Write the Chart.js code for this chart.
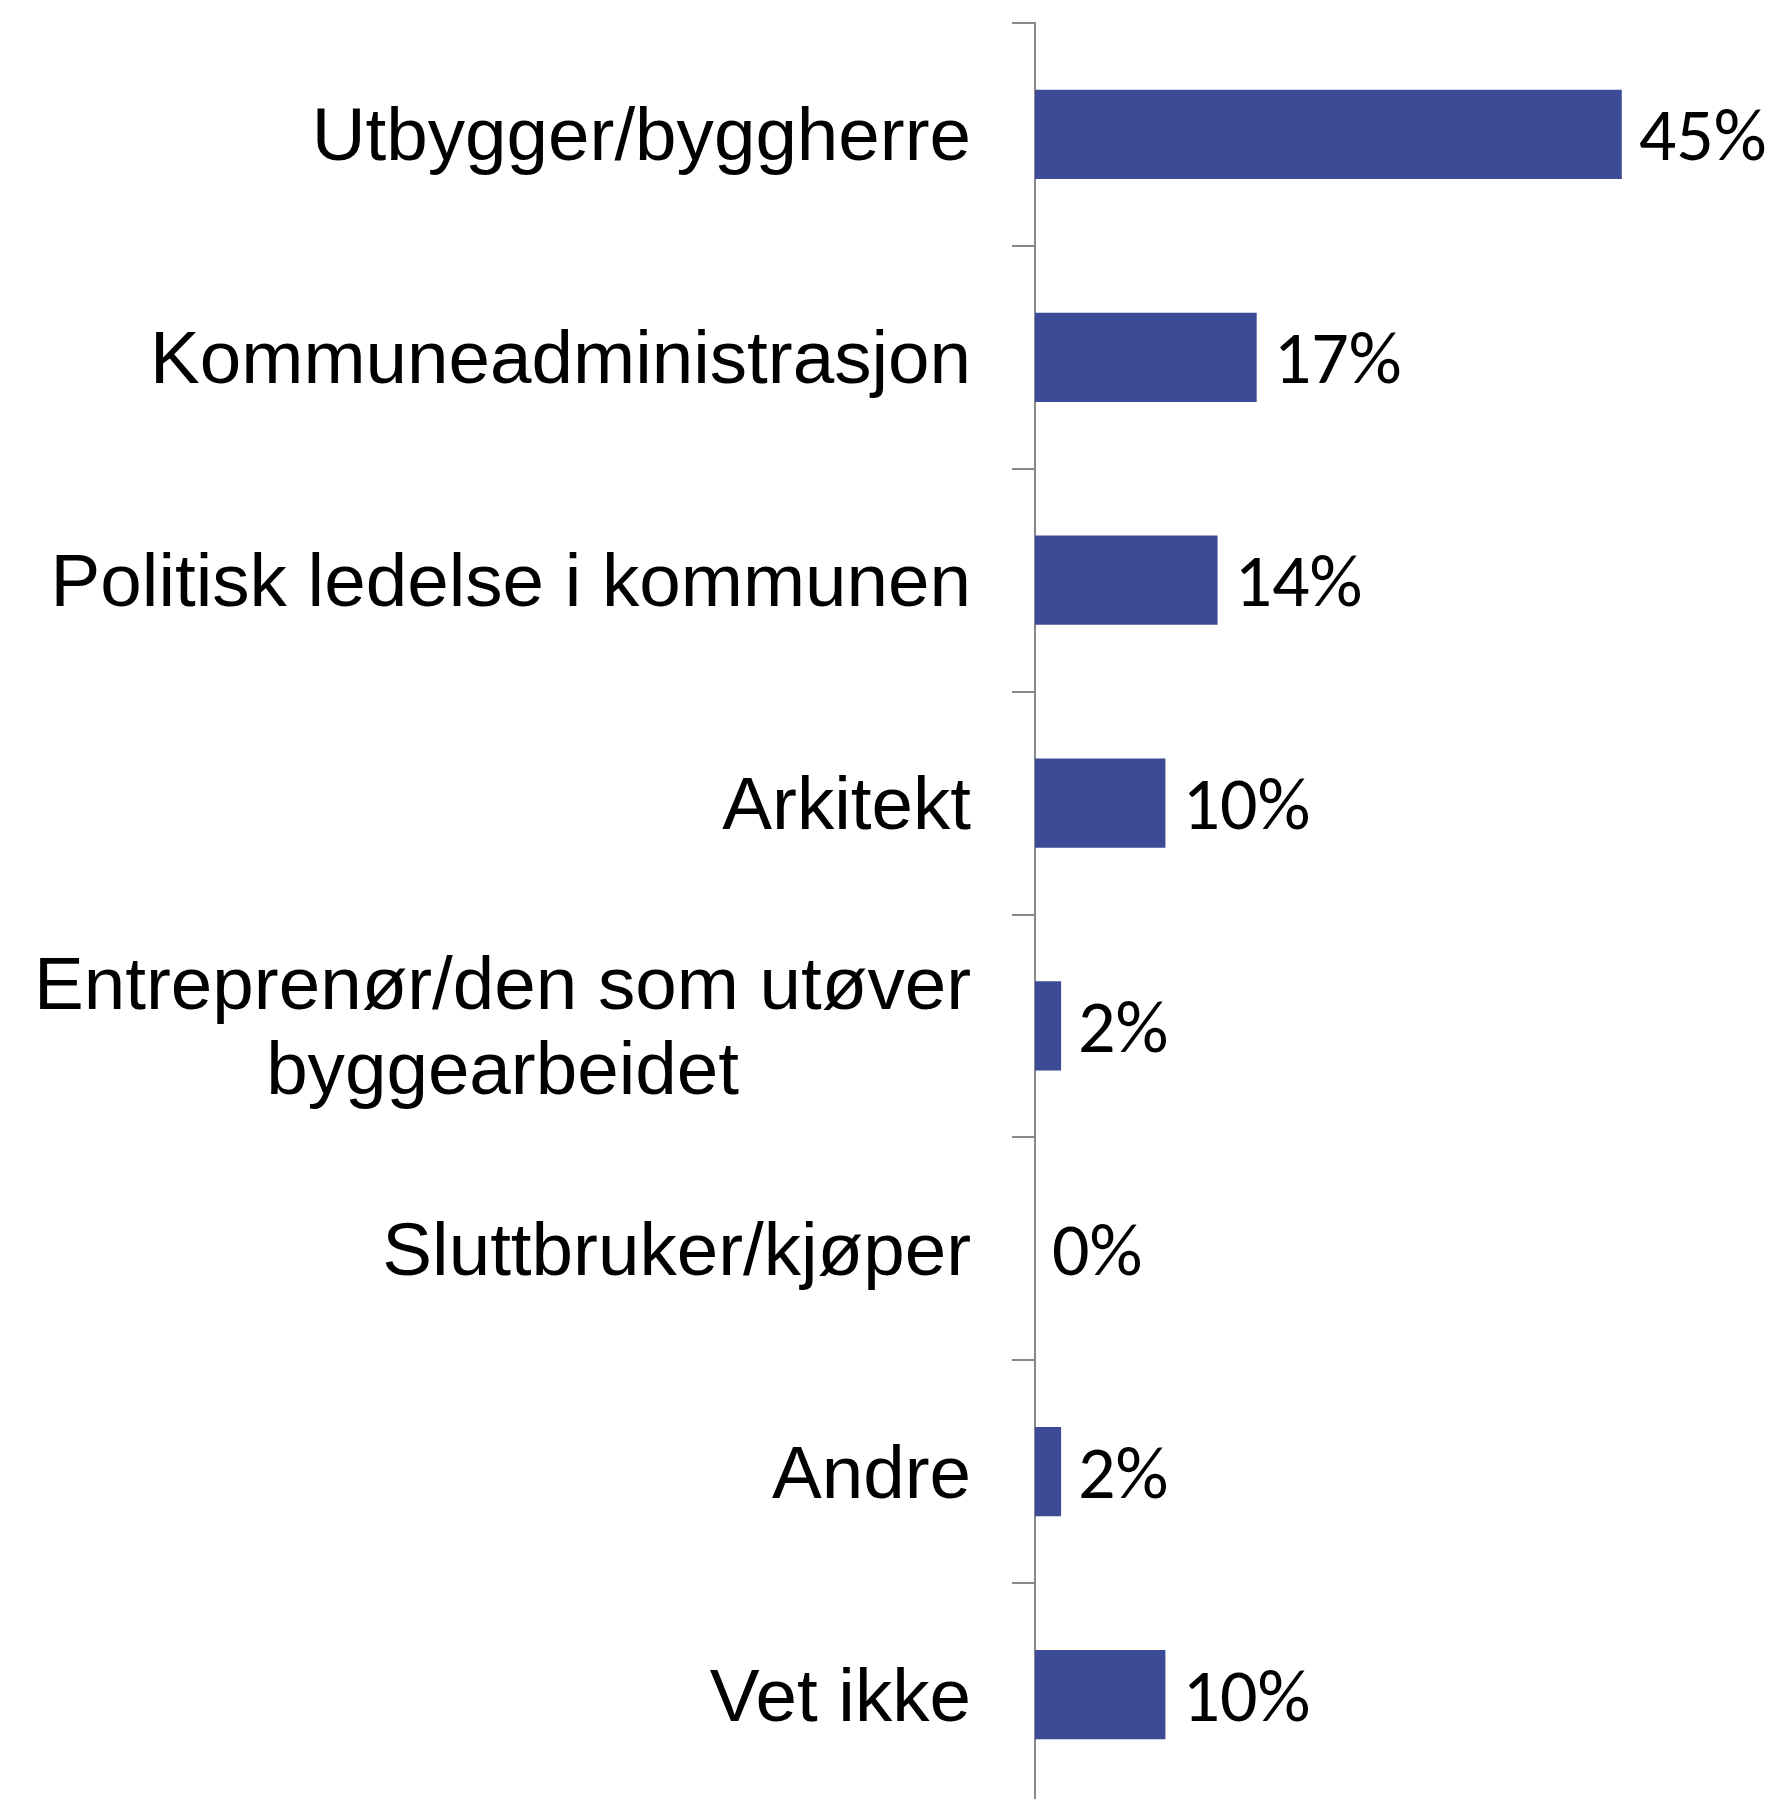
<!DOCTYPE html>
<html>
<head>
<meta charset="utf-8">
<script src="https://cdn.jsdelivr.net/npm/chart.js@4.4.0/dist/chart.umd.min.js"></script>
<style>
  html, body { margin: 0; padding: 0; background: #fff; overflow: hidden; }
  canvas { display: block; }
</style>
</head>
<body>
<canvas id="chart" width="1779" height="1807"></canvas>
<script>
// kategorier (andel svar i prosent)
const categories = [
    'Utbygger/byggherre',
    'Kommuneadministrasjon',
    'Politisk ledelse i kommunen',
    'Arkitekt',
    ['Entreprenør/den som utøver', 'byggearbeidet'],
    'Sluttbruker/kjøper',
    'Andre',
    'Vet ikke'
];
const values = [45, 17, 14, 10, 2, 0, 2, 10];
const valueLabels = ['45%', '17%', '14%', '10%', '2%', '0%', '2%', '10%'];

const barColor = '#3d4b97';
const axisColor = '#888888';

// tegner kategorinavn til venstre (flere linjer sentreres mot hverandre)
const categoryLabels = {
    id: 'categoryLabels',
    afterDraw(chart) {
        const ctx = chart.ctx;
        const yScale = chart.scales.y;
        const right = chart.chartArea.left - 64;
        const lineHeight = 85;
        ctx.save();
        ctx.fillStyle = '#000';
        ctx.font = '74.6px "Liberation Sans", Arial, sans-serif';
        ctx.textBaseline = 'alphabetic';
        ctx.textAlign = 'center';
        categories.forEach((lab, i) => {
            const lines = Array.isArray(lab) ? lab : [lab];
            const yc = yScale.getPixelForTick(i);
            const w = Math.max(...lines.map(l => ctx.measureText(l).width));
            const cx = right - w / 2;
            lines.forEach((line, j) => {
                const y = yc + (j - (lines.length - 1) / 2) * lineHeight + 26;
                ctx.fillText(line, cx, y);
            });
        });
        ctx.restore();
    }
};

// verdietiketter etter hver søyle
const valueLabelPlugin = {
    id: 'valueLabels',
    afterDatasetsDraw(chart) {
        const ctx = chart.ctx;
        const meta = chart.getDatasetMeta(0);
        ctx.save();
        ctx.fillStyle = '#000';
        ctx.font = '74px Carlito, Lato, "Open Sans", sans-serif';
        ctx.textAlign = 'left';
        ctx.textBaseline = 'alphabetic';
        meta.data.forEach((bar, i) => {
            ctx.fillText(valueLabels[i], bar.x + 17, bar.y + 26);
        });
        ctx.restore();
    }
};

new Chart(document.getElementById('chart').getContext('2d'), {
    type: 'bar',
    data: {
        labels: categories,
        datasets: [{
            data: values,
            backgroundColor: barColor,
            borderWidth: 0,
            categoryPercentage: 1,
            barPercentage: 0.4
        }]
    },
    options: {
        indexAxis: 'y',
        responsive: false,
        animation: false,
        devicePixelRatio: 1,
        layout: {
            padding: { top: 23, bottom: 1, right: 92, left: 0 }
        },
        plugins: {
            legend: { display: false },
            tooltip: { enabled: false }
        },
        scales: {
            x: {
                display: false,
                min: 0,
                max: 50
            },
            y: {
                offset: true,
                ticks: { display: false },
                grid: {
                    offset: true,
                    drawOnChartArea: false,
                    drawTicks: true,
                    tickLength: 23,
                    color: axisColor,
                    lineWidth: 2
                },
                border: { color: axisColor, width: 2 },
                afterFit(scale) {
                    scale.width = 1035;
                }
            }
        }
    },
    plugins: [categoryLabels, valueLabelPlugin]
});
</script>
</body>
</html>
